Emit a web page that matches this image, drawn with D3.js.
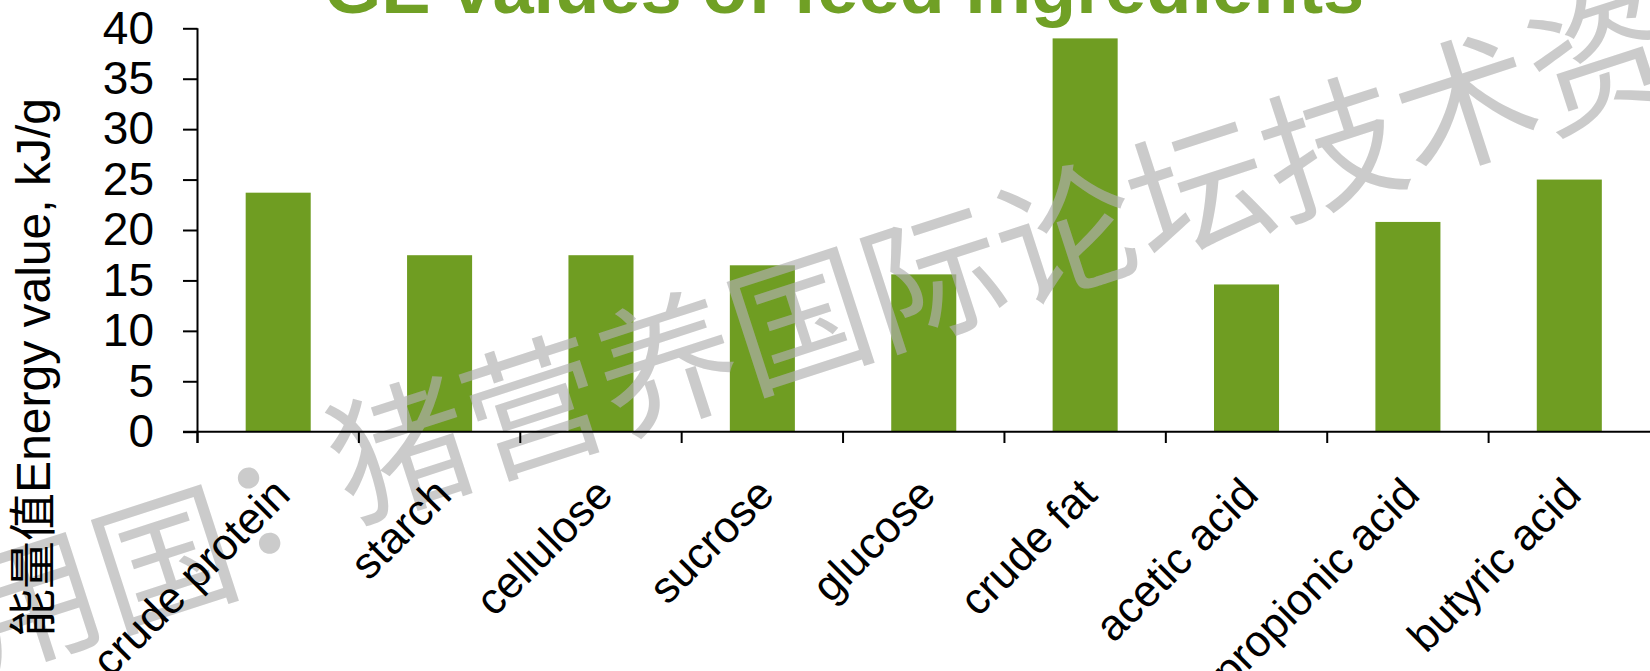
<!DOCTYPE html>
<html><head><meta charset="utf-8">
<script src="https://cdn.jsdelivr.net/npm/d3@7/dist/d3.min.js"></script>
<style>body{margin:0;background:#fff;overflow:hidden}svg{display:block}</style>
</head><body><svg id="c" width="1650" height="671"></svg>
<script>
const categories = ["crude protein","starch","cellulose","sucrose","glucose","crude fat","acetic acid","propionic acid","butyric acid"];
const values = [23.7,17.5,17.5,16.5,15.6,39.0,14.6,20.8,25.0];
const yTicks = [0,5,10,15,20,25,30,35,40];
const titleText = "GE values of feed ingredients";
const yLabel = "能量值Energy value, kJ/g";
const watermarkParts = ["用国", "：", "猪营养国际论坛技术资料"];

const green = "#6f9d22";
const svg = d3.select("#c");
const x = d3.scaleBand().domain(categories).range([197.5,1650]).paddingInner(0.597).paddingOuter(0.2985);
const y = d3.scaleLinear().domain([0,40]).range([431.7,28.3]);

// bars
svg.append("g").selectAll("rect").data(categories).join("rect")
  .attr("x", d => x(d)).attr("width", x.bandwidth())
  .attr("y", (d,i) => y(values[i])).attr("height", (d,i) => y(0) - y(values[i]))
  .attr("fill", green);

// watermark
const wm = svg.append("text")
  .attr("transform", "translate(-49.5,651) rotate(-18)")
  .attr("font-family", "'Noto Sans CJK SC', sans-serif")
  .attr("font-size", 140)
  .attr("fill", "rgb(176,176,176)").attr("fill-opacity", 0.66);
wm.append("tspan").attr("dx", 22).attr("dy", 30).text(watermarkParts[0]);
wm.append("tspan").attr("dx", 0).attr("dy", -24).text(watermarkParts[1]);
wm.append("tspan").attr("dx", -22).attr("dy", -6).text(watermarkParts[2]);

// title
svg.append("text").attr("x", 844).attr("y", 13).attr("text-anchor", "middle")
  .attr("font-family", "'Liberation Sans', Arial, sans-serif").attr("font-weight", "bold")
  .attr("font-size", 74).attr("fill", "#70a025").text(titleText);

// y axis
const yAxis = d3.axisLeft(y).tickValues(yTicks).tickSize(14.5).tickSizeOuter(0).tickPadding(29);
const gy = svg.append("g").attr("transform", "translate(197.5,0)").call(yAxis);
gy.select(".domain").remove();
gy.selectAll(".tick line").attr("stroke", "#000").attr("stroke-width", 2);
gy.selectAll(".tick text").attr("font-family", "'Liberation Sans', Arial, sans-serif").attr("font-size", 46).attr("fill", "#000");
svg.append("line").attr("x1", 197.5).attr("x2", 197.5).attr("y1", y(40)).attr("y2", 443)
  .attr("stroke", "#000").attr("stroke-width", 2);

// x axis
svg.append("line").attr("x1", 183).attr("x2", 1650).attr("y1", y(0)).attr("y2", y(0))
  .attr("stroke", "#000").attr("stroke-width", 2);
const bounds = categories.map(c => x(c) - x.step() * x.paddingInner() / 2);
svg.append("g").selectAll("line").data(bounds).join("line")
  .attr("x1", d => d).attr("x2", d => d).attr("y1", y(0)).attr("y2", 443)
  .attr("stroke", "#000").attr("stroke-width", 2);
svg.append("g").selectAll("text").data(categories).join("text")
  .attr("transform", d => `translate(${x(d) + x.bandwidth()/2 + 14},497) rotate(-45)`)
  .attr("text-anchor", "end")
  .attr("font-family", "'Liberation Sans', Arial, sans-serif").attr("font-size", 44).attr("fill", "#000")
  .text(d => d);

// y label
svg.append("text").attr("transform", "translate(50,98) rotate(-90)").attr("text-anchor", "end")
  .attr("font-family", "'Liberation Sans', 'Noto Sans CJK SC', sans-serif").attr("font-size", 48).attr("fill", "#000")
  .text(yLabel);
</script></body></html>
